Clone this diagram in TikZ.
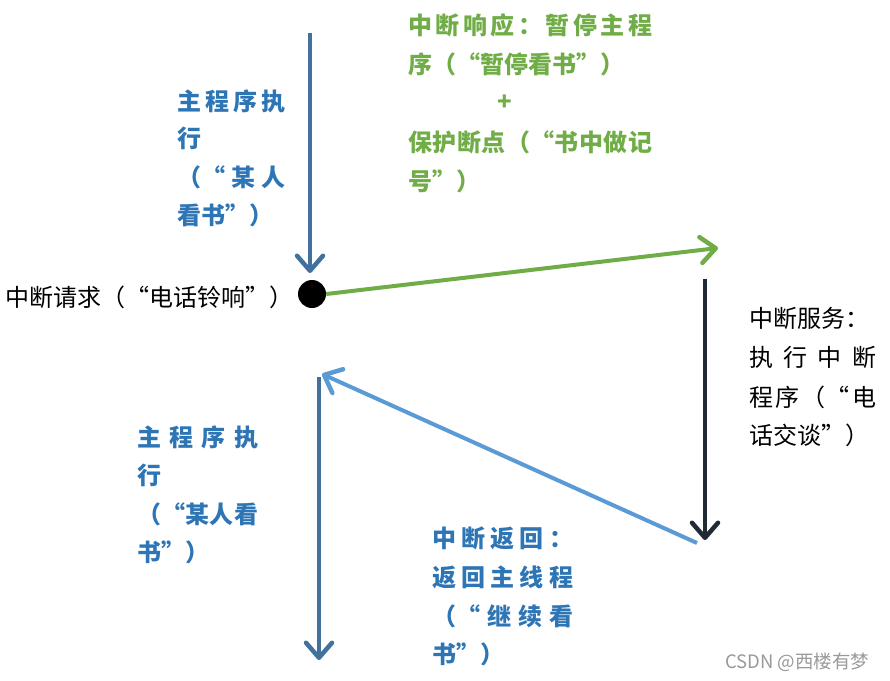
\documentclass[tikz,border=0pt]{standalone}
\usepackage{fontspec}
\newfontfamily\cjk{Noto Sans CJK SC}
\usetikzlibrary{arrows.meta}
\definecolor{arrblue}{RGB}{65,113,156}
\definecolor{arrgreen}{RGB}{112,173,71}
\definecolor{arrdark}{RGB}{34,42,53}
\definecolor{arrlight}{RGB}{91,155,213}
\definecolor{txtblue}{RGB}{46,117,182}
\definecolor{txtgreen}{RGB}{112,173,71}
\newcommand\jline[2]{\hbox to #1{#2}}
\tikzset{
  arr/.style={line width=4pt, -{Straight Barb[length=15pt,width=26pt,line width=4.5pt,line cap=round,line join=round]}},
  txt/.style={anchor=west, inner sep=0pt, font=\cjk\fontsize{24}{28}\selectfont},
  btxt/.style={txt, font=\cjk\bfseries\fontsize{24}{28}\selectfont},
  bluetxt/.style={btxt, text=txtblue},
  greentxt/.style={btxt, text=txtgreen},
}
\begin{document}
\begin{tikzpicture}[x=1pt,y=-1pt]
\useasboundingbox (0,0) rectangle (890,680);
% coordinates
\coordinate (a1s) at (310,33);
\coordinate (a1e) at (310,273);
\node[circle, fill=black, minimum size=28pt, inner sep=0pt] (dot) at (312,294) {};
\coordinate (g1e) at (718,248);
\coordinate (d1s) at (705,279);
\coordinate (d1e) at (705,540);
\coordinate (l1s) at (697,543);
\coordinate (l1e) at (322,374);
\coordinate (b2s) at (319,377);
\coordinate (b2e) at (319,660);
% arrows
\draw[arr, arrblue] (a1s) -- (a1e);
\draw[arr, arrgreen] (dot.east) -- (g1e);
\draw[arr, arrdark] (d1s) -- (d1e);
\draw[arr, arrlight] (l1s) -- (l1e);
\draw[arr, arrblue] (b2s) -- (b2e);
% blue text 1
\node[bluetxt] (t1a) at (177,101) {\jline{108pt}{主\hfil 程\hfil 序\hfil 执}};
\node[bluetxt] (t1b) at (177,138) {行};
\node[bluetxt] (t1c) at (177,177) {\jline{108pt}{（“\hfil 某\hfil 人}};
\node[bluetxt] (t1d) at (177,215) {看书”）};
% request
\node[txt] (req) at (5,297) {中断请求（“电话铃响”）};
% green text
\node[greentxt] (g1) at (408,25) {\jline{244pt}{中\hfil 断\hfil 响\hfil 应\hfil ：\hfil 暂\hfil 停\hfil 主\hfil 程}};
\node[greentxt] (g2) at (408,64) {序（“暂停看书”）};
\node[greentxt, anchor=center] (g3) at (505,103) {+};
\node[greentxt] (g4) at (408,142) {\jline{244pt}{保\hfil 护\hfil 断\hfil 点\hfil （“\hfil 书\hfil 中\hfil 做\hfil 记}};
\node[greentxt] (g5) at (408,181) {号”）};
% service text
\node[txt] (s1) at (749,318) {中断服务：};
\node[txt] (s2) at (749,357) {\jline{127pt}{执\hfil 行\hfil 中\hfil 断}};
\node[txt] (s3) at (749,397) {\jline{127pt}{程\hfil 序\hfil （“\hfil 电}};
\node[txt] (s4) at (749,435) {话交谈”）};
% blue text 2
\node[bluetxt] (t2a) at (137,437) {\jline{121pt}{主\hfil 程\hfil 序\hfil 执}};
\node[bluetxt] (t2b) at (137,475) {行};
\node[bluetxt] (t2c) at (137,514) {\jline{121pt}{（“\hfil 某\hfil 人\hfil 看}};
\node[bluetxt] (t2d) at (137,552) {书”）};
% blue text 3
\node[bluetxt] (t3a) at (432,538) {\jline{141pt}{中\hfil 断\hfil 返\hfil 回\hfil ：}};
\node[bluetxt] (t3b) at (432,577) {\jline{141pt}{返\hfil 回\hfil 主\hfil 线\hfil 程}};
\node[bluetxt] (t3c) at (432,616) {\jline{141pt}{（“\hfil 继\hfil 续\hfil 看}};
\node[bluetxt] (t3d) at (432,654) {书”）};
% watermark
\node[anchor=west, inner sep=0pt, text=black!40, font=\cjk\fontsize{18.5}{20}\selectfont] (wm) at (725,662) {CSDN @西楼有梦};
\end{tikzpicture}
\end{document}
